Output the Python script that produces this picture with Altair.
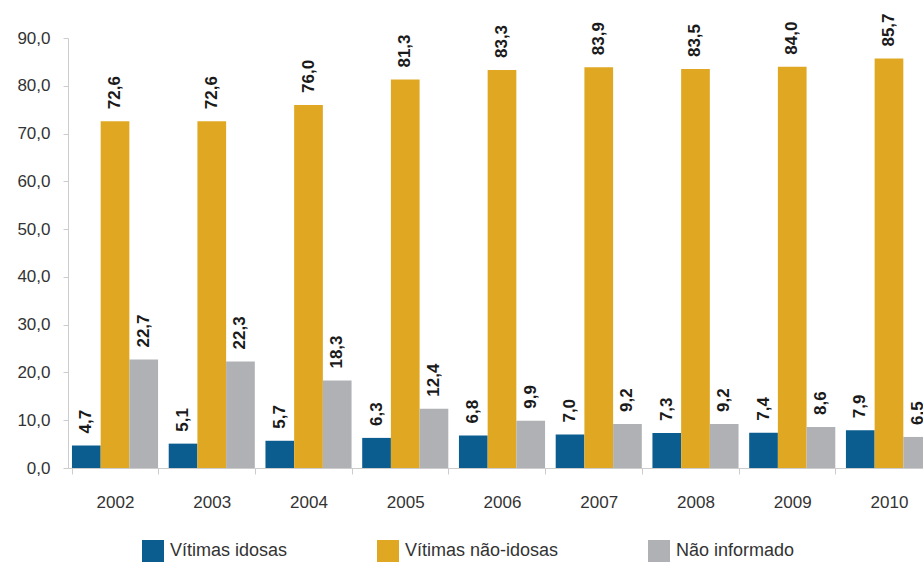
import altair as alt
import pandas as pd

years = ["2002", "2003", "2004", "2005", "2006", "2007", "2008", "2009", "2010"]
series = ["Vítimas idosas", "Vítimas não-idosas", "Não informado"]
idosas = [4.7, 5.1, 5.7, 6.3, 6.8, 7.0, 7.3, 7.4, 7.9]
nao_idosas = [72.6, 72.6, 76.0, 81.3, 83.3, 83.9, 83.5, 84.0, 85.7]
nao_informado = [22.7, 22.3, 18.3, 12.4, 9.9, 9.2, 9.2, 8.6, 6.5]
colors = ["#0B5D8F", "#E0A822", "#AFB1B4"]
y_ticks = [0, 10, 20, 30, 40, 50, 60, 70, 80, 90]

rows = []
for i, yr in enumerate(years):
    for s, vals in zip(series, [idosas, nao_idosas, nao_informado]):
        rows.append({"ano": yr, "serie": s, "valor": vals[i]})
df = pd.DataFrame(rows)

FONT = "Liberation Sans"

base = alt.Chart(df).transform_calculate(
    label="replace(format(datum.valor, '.1f'), '.', ',')"
).encode(
    x=alt.X(
        "ano:N",
        sort=years,
        scale=alt.Scale(range=[0, 868], paddingInner=0.11, paddingOuter=0.041),
        axis=alt.Axis(
            title=None, labelAngle=0, labelFontSize=17, labelFont=FONT,
            labelColor="#333333", domainColor="#cccccc", tickColor="#cccccc",
            tickBand="extent", tickSize=6, labelPadding=20,
        ),
    ),
    xOffset=alt.XOffset("serie:N", sort=series,
                        scale=alt.Scale(paddingInner=0, paddingOuter=0)),
    y=alt.Y(
        "valor:Q",
        scale=alt.Scale(domain=[0, 90], nice=False),
        axis=alt.Axis(
            title=None, values=y_ticks, grid=False,
            labelExpr="replace(format(datum.value, '.1f'), '.', ',')",
            labelFontSize=17, labelFont=FONT, labelColor="#333333",
            domainColor="#cccccc", tickColor="#cccccc", tickSize=5,
            labelPadding=13,
        ),
    ),
)

bars = base.mark_bar().encode(
    color=alt.Color(
        "serie:N", sort=series,
        scale=alt.Scale(domain=series, range=colors),
        legend=alt.Legend(
            title=None, orient="none", legendX=74, legendY=502,
            direction="horizontal", symbolType="square", symbolSize=484,
            symbolStrokeWidth=0, labelFontSize=18, labelFont=FONT,
            labelColor="#333333", labelOffset=6, columnPadding=89,
            padding=0, labelLimit=300,
        ),
    )
)

text = base.mark_text(
    angle=270, align="left", baseline="middle", dx=12,
    fontSize=17, fontWeight="bold", font=FONT, color="#1a1a1a",
).encode(text="label:N")

chart = (bars + text).properties(
    width=855,
    height=430,
    autosize=alt.AutoSizeParams(type="none"),
    padding={"left": 68, "top": 38, "right": 0, "bottom": 95},
).configure_view(stroke=None)

chart.save("out.html", embed_options={"renderer": "svg", "actions": False})
